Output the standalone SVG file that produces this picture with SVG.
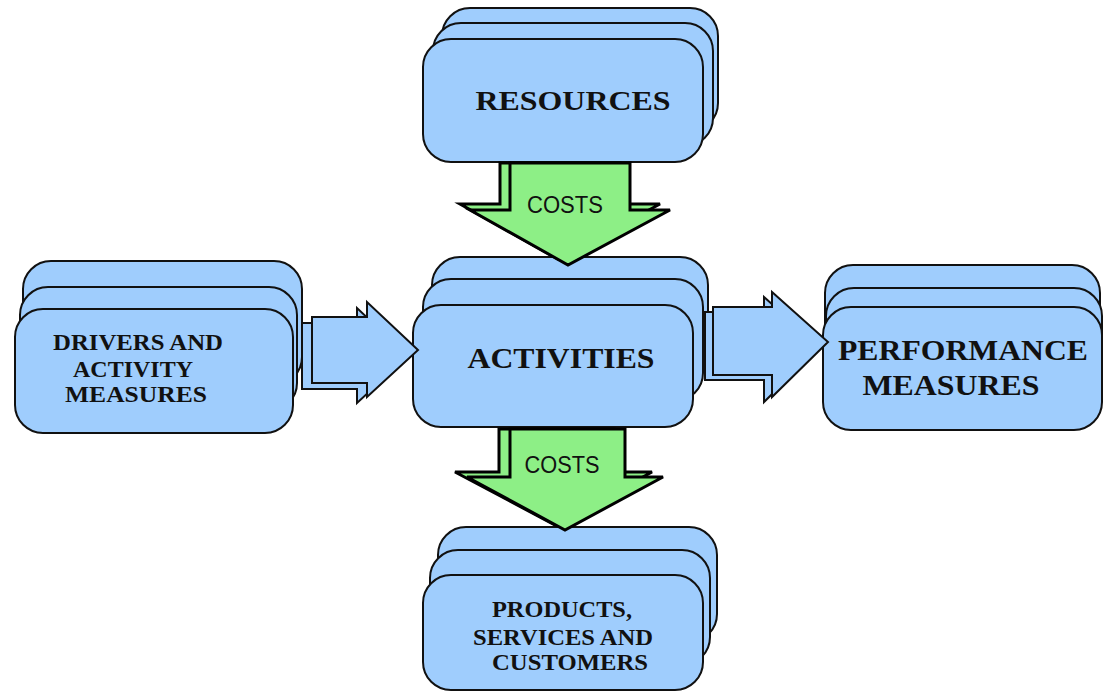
<svg xmlns="http://www.w3.org/2000/svg" width="1106" height="698" viewBox="0 0 1106 698">
<style>
.card{fill:#9fcdfd;stroke:#111;stroke-width:2}
.barrow{fill:#9fcdfd;stroke:#111;stroke-width:2;stroke-linejoin:miter}
.garrow{fill:#8def86;stroke:#000;stroke-width:3;stroke-linejoin:miter}
.lbl{font-family:"Liberation Serif","Times New Roman",serif;font-weight:bold;fill:#111;text-anchor:middle}
.cost{font-family:"Liberation Sans Narrow","Liberation Sans",Arial,sans-serif;font-size:23px;fill:#111;text-anchor:middle}
</style>
<rect width="1106" height="698" fill="#fff"/>
<g id="resources">
<rect class="card" x="442" y="8" width="276" height="123" rx="28"/>
<rect class="card" x="433" y="23" width="280" height="123" rx="28"/>
<rect class="card" x="423" y="39" width="280" height="123" rx="28"/>
<text class="lbl" x="573" y="110" font-size="28" textLength="195" lengthAdjust="spacingAndGlyphs">RESOURCES</text>
</g>
<g id="activities">
<rect class="card" x="432" y="257" width="276" height="122" rx="28"/>
<rect class="card" x="423" y="279" width="280" height="122" rx="28"/>
<rect class="card" x="413" y="305" width="280" height="122" rx="28"/>
<text class="lbl" x="561" y="368" font-size="30" textLength="187" lengthAdjust="spacingAndGlyphs">ACTIVITIES</text>
</g>
<g id="drivers">
<rect class="card" x="23" y="261" width="279" height="124" rx="28"/>
<rect class="card" x="20" y="287" width="277" height="124" rx="28"/>
<rect class="card" x="15" y="309" width="278" height="124" rx="28"/>
<text class="lbl" font-size="23"><tspan x="138" y="350" textLength="170" lengthAdjust="spacingAndGlyphs">DRIVERS AND</tspan><tspan x="133" y="377" textLength="120" lengthAdjust="spacingAndGlyphs">ACTIVITY</tspan><tspan x="136" y="402" textLength="142" lengthAdjust="spacingAndGlyphs">MEASURES</tspan></text>
</g>
<g id="performance">
<rect class="card" x="825" y="265" width="275" height="123" rx="28"/>
<rect class="card" x="826" y="288" width="276" height="123" rx="28"/>
<rect class="card" x="823" y="307" width="279" height="123" rx="28"/>
<text class="lbl" font-size="30"><tspan x="963" y="360" textLength="250" lengthAdjust="spacingAndGlyphs">PERFORMANCE</tspan><tspan x="951" y="395" textLength="177" lengthAdjust="spacingAndGlyphs">MEASURES</tspan></text>
</g>
<g id="products">
<rect class="card" x="438" y="527" width="279" height="115" rx="28"/>
<rect class="card" x="430" y="550" width="280" height="115" rx="28"/>
<rect class="card" x="423" y="575" width="280" height="115" rx="28"/>
<text class="lbl" font-size="23"><tspan x="562" y="617" textLength="140" lengthAdjust="spacingAndGlyphs">PRODUCTS,</tspan><tspan x="563" y="645" textLength="180" lengthAdjust="spacingAndGlyphs">SERVICES AND</tspan><tspan x="570" y="670" textLength="156" lengthAdjust="spacingAndGlyphs">CUSTOMERS</tspan></text>
</g>
<g id="connectors">
<g id="costs-top">
<polygon class="garrow" points="500,163 620,163 620,204 660,204 558,259 460,204 500,204"/>
<polygon class="garrow" points="510,163 630,163 630,210 670,210 568,265 470,210 510,210"/>
<text class="cost" x="565" y="213" textLength="76" lengthAdjust="spacingAndGlyphs">COSTS</text>
</g>
<g id="costs-bottom">
<polygon class="garrow" points="499,429 614,429 614,472 652,472 555,525 455,472 499,472"/>
<polygon class="garrow" points="510,429 625,429 625,477 663,477 565,530 467,477 510,477"/>
<text class="cost" x="562" y="473" textLength="75" lengthAdjust="spacingAndGlyphs">COSTS</text>
</g>
<g id="drivers-to-activities">
<polygon class="barrow" points="302,323 357,323 357,308 408,356 357,403 357,389 302,389"/>
<polygon class="barrow" points="312,317 367,317 367,302 418,350 367,397 367,383 312,383"/>
</g>
<g id="activities-to-performance">
<polygon class="barrow" points="705,312 764,312 764,297 820,347 764,402 764,380 705,380"/>
<polygon class="barrow" points="713,307 772,307 772,292 828,342 772,397 772,375 713,375"/>
</g>
</g>
</svg>
